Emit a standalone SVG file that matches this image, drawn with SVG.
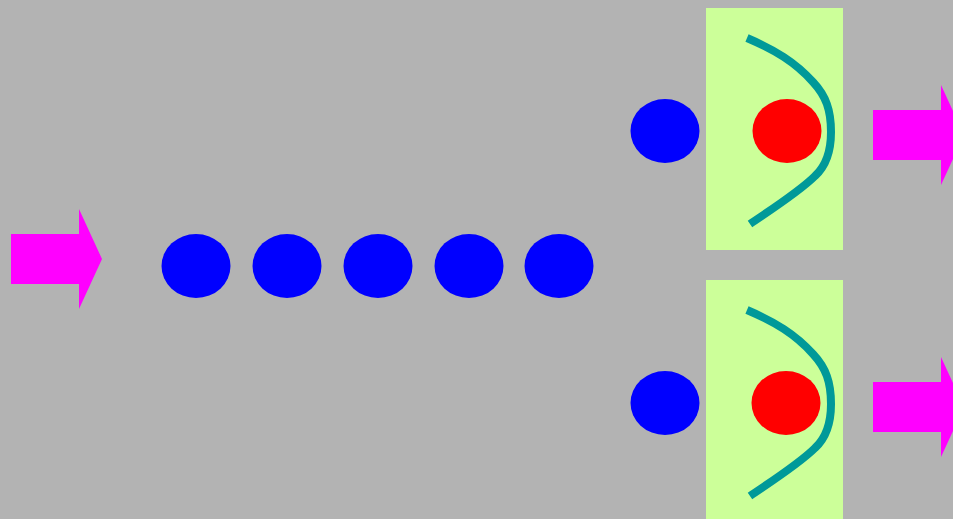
<svg xmlns="http://www.w3.org/2000/svg" width="953" height="519" viewBox="0 0 953 519">
<style>
.arrow{fill:#ff00ff}
.blue{fill:#0000ff}
.red{fill:#ff0000}
.box{fill:#ccff99}
.curve{fill:none;stroke:#009999;stroke-width:8}
</style>
<defs>
<path id="arr" d="M0,25 H68 V0 L91,50 L68,100 V75 H0 Z"/>
<path id="cv" d="M747,38 C775,50 795,62 813,82 C826,96 831,110 831,132 C831,152 826,166 815,176 C800,191 775,207 750,224"/>
</defs>
<rect width="953" height="519" fill="#b3b3b3"/>
<g id="input-arrow"><use href="#arr" class="arrow" x="11" y="209"/></g>
<g id="queue">
<ellipse class="blue" cx="196" cy="266" rx="34.5" ry="32"/>
<ellipse class="blue" cx="287" cy="266" rx="34.5" ry="32"/>
<ellipse class="blue" cx="378" cy="266" rx="34.5" ry="32"/>
<ellipse class="blue" cx="469" cy="266" rx="34.5" ry="32"/>
<ellipse class="blue" cx="559" cy="266" rx="34.5" ry="32"/>
</g>
<g id="server1">
<rect class="box" x="706" y="8" width="137" height="242"/>
<use href="#cv" class="curve"/>
<ellipse class="red" cx="787" cy="131" rx="34.5" ry="32"/>
<ellipse class="blue" cx="665" cy="131" rx="34.5" ry="32"/>
</g>
<g id="server2">
<rect class="box" x="706" y="280" width="137" height="242"/>
<use href="#cv" class="curve" y="272"/>
<ellipse class="red" cx="786" cy="403" rx="34.5" ry="32"/>
<ellipse class="blue" cx="665" cy="403" rx="34.5" ry="32"/>
</g>
<g id="connectors">
<use href="#arr" class="arrow" x="873" y="85"/>
<use href="#arr" class="arrow" x="873" y="357"/>
</g>
</svg>
